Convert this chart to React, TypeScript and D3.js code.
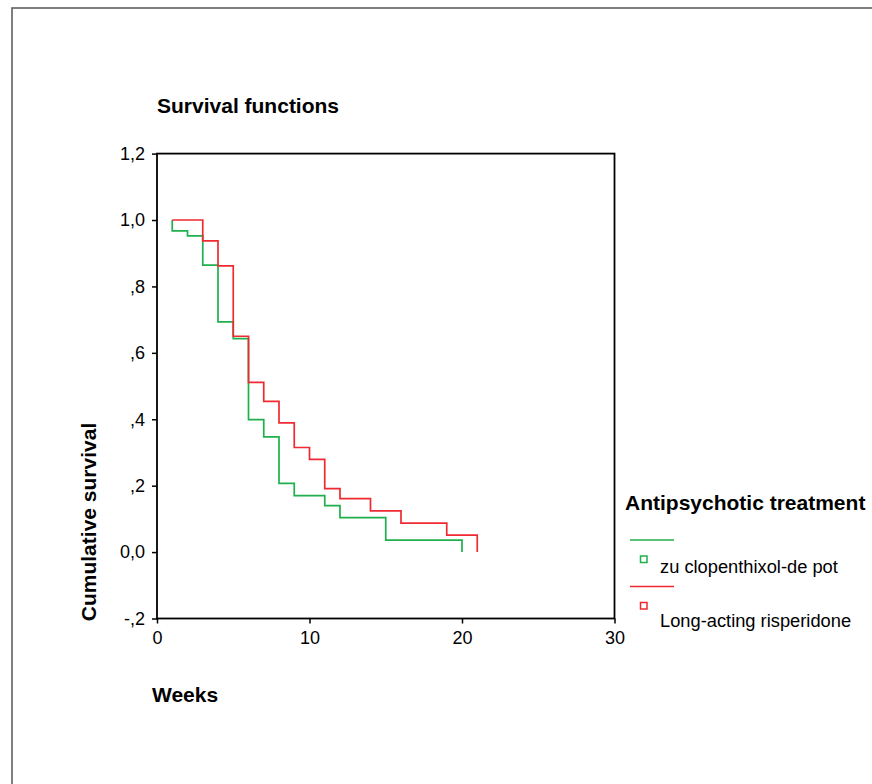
import React, { useEffect, useRef } from 'react';
import * as d3 from 'd3';

// Kaplan-Meier steps: curve starts at week 1 with 1.0,
// then drops to survival[i] at weeks[i]
const zucloWeeks = [1, 2, 3, 4, 5, 6, 7, 8, 9, 11, 12, 15, 20];
const zucloSurvival = [0.967, 0.952, 0.864, 0.693, 0.643, 0.399, 0.347, 0.207, 0.17, 0.14, 0.104, 0.036, 0.0];

const rispWeeks = [3, 4, 5, 6, 7, 8, 9, 10, 11, 12, 14, 16, 19, 21];
const rispSurvival = [0.937, 0.862, 0.65, 0.511, 0.454, 0.389, 0.315, 0.279, 0.191, 0.161, 0.124, 0.087, 0.051, 0.0];

const yTicks = [-0.2, 0, 0.2, 0.4, 0.6, 0.8, 1.0, 1.2];
const yTickLabels = ['-,2', '0,0', ',2', ',4', ',6', ',8', '1,0', '1,2'];
const xTicks = [0, 10, 20, 30];

const seriesNames = ['zu clopenthixol-de pot', 'Long-acting risperidone'];
const seriesColors = ['#1fb04c', '#ee2a30'];

const W = 872;
const H = 784;

const App = () => {
  const svgRef = useRef<SVGSVGElement>(null);

  useEffect(() => {
    const svg = d3.select(svgRef.current);
    svg.selectAll('*').remove();

    const font = 'Arial, "Liberation Sans", sans-serif';

    // outer frame
    svg.append('path')
      .attr('d', `M12,${H} L12,8 L${W},8`)
      .attr('fill', 'none')
      .attr('stroke', '#555')
      .attr('stroke-width', 1.5);

    const left = 157, right = 614.5, top = 153.6, bottom = 618.5;

    const x = d3.scaleLinear().domain([0, 30]).range([left, right]);
    const y = d3.scaleLinear().domain([-0.2, 1.2]).range([bottom, top]);

    // plot box
    svg.append('rect')
      .attr('x', left)
      .attr('y', top)
      .attr('width', right - left)
      .attr('height', bottom - top)
      .attr('fill', 'none')
      .attr('stroke', '#000')
      .attr('stroke-width', 1.8);

    // y axis
    const yAxis = svg.append('g')
      .attr('transform', `translate(${left},0)`)
      .call(d3.axisLeft(y)
        .tickValues(yTicks)
        .tickSize(5)
        .tickPadding(7)
        .tickFormat((d, i) => yTickLabels[i]));
    yAxis.select('.domain').remove();
    yAxis.selectAll('line').attr('stroke', '#000').attr('stroke-width', 1.5);
    yAxis.selectAll('text')
      .attr('fill', '#000')
      .style('font-family', font)
      .style('font-size', '18px');

    // x axis
    const xAxis = svg.append('g')
      .attr('transform', `translate(0,${bottom})`)
      .call(d3.axisBottom(x)
        .tickValues(xTicks)
        .tickSize(5)
        .tickPadding(8)
        .tickFormat(d3.format('d')));
    xAxis.select('.domain').remove();
    xAxis.selectAll('line').attr('stroke', '#000').attr('stroke-width', 1.5);
    xAxis.selectAll('text')
      .attr('fill', '#000')
      .style('font-family', font)
      .style('font-size', '18px');

    // survival curves
    const line = d3.line<[number, number]>()
      .x(d => x(d[0]))
      .y(d => y(d[1]))
      .curve(d3.curveStepAfter);

    const zucloPts: [number, number][] = [[1, 1.0], ...zucloWeeks.map((w, i) => [w, zucloSurvival[i]] as [number, number])];
    const rispPts: [number, number][] = [[1, 1.0], ...rispWeeks.map((w, i) => [w, rispSurvival[i]] as [number, number])];

    [zucloPts, rispPts].forEach((pts, i) => {
      svg.append('path')
        .datum(pts)
        .attr('fill', 'none')
        .attr('stroke', seriesColors[i])
        .attr('stroke-width', 1.7)
        .attr('d', line);
    });

    // titles
    const bold = (sel: any) => sel
      .style('font-family', font)
      .style('font-weight', 'bold')
      .style('font-size', '21px');

    svg.append('text')
      .attr('x', 157)
      .attr('y', 113)
      .call(bold)
      .text('Survival functions');

    svg.append('text')
      .attr('transform', 'translate(96,522) rotate(-90)')
      .attr('text-anchor', 'middle')
      .call(bold)
      .text('Cumulative survival');

    svg.append('text')
      .attr('x', 152)
      .attr('y', 702)
      .call(bold)
      .text('Weeks');

    // legend
    svg.append('text')
      .attr('x', 625)
      .attr('y', 510)
      .call(bold)
      .text('Antipsychotic treatment');

    seriesNames.forEach((name, i) => {
      const g = svg.append('g').attr('transform', `translate(0,${i * 46.5})`);
      g.append('line')
        .attr('x1', 630).attr('x2', 674)
        .attr('y1', 540).attr('y2', 540)
        .attr('stroke', seriesColors[i])
        .attr('stroke-width', 1.7);
      g.append('rect')
        .attr('x', 640.5).attr('y', 556)
        .attr('width', 6.5).attr('height', 6.5)
        .attr('fill', 'none')
        .attr('stroke', seriesColors[i])
        .attr('stroke-width', 1.5);
      g.append('text')
        .attr('x', 660)
        .attr('y', i === 0 ? 573 : 580)
        .style('font-family', font)
        .style('font-size', '18.3px')
        .text(name);
    });
  }, []);

  return (
    <svg
      ref={svgRef}
      width={W}
      height={H}
      style={{ position: 'absolute', left: 0, top: 0, background: '#fff' }}
    />
  );
};

export default App;
